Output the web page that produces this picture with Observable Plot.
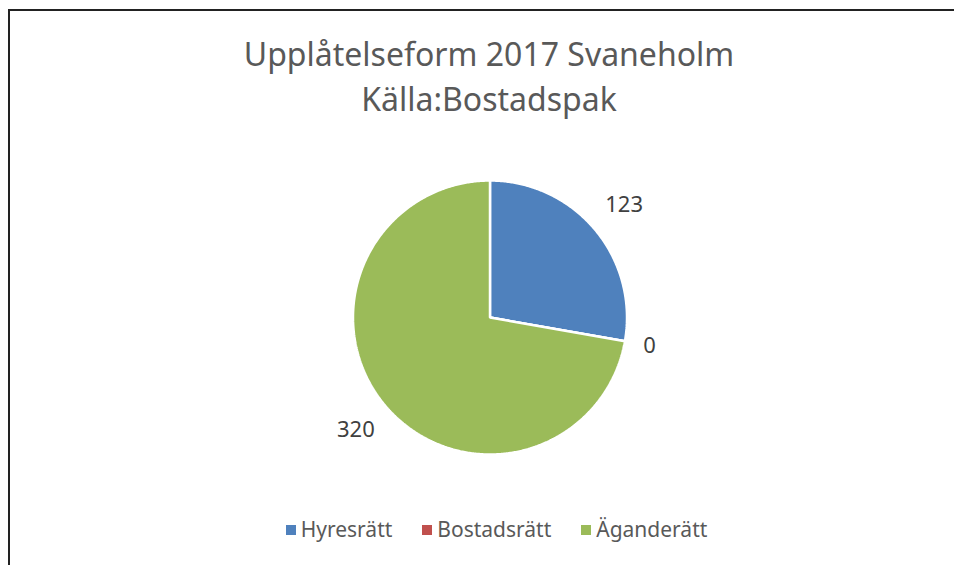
<!DOCTYPE html>
<html>
<head>
<meta charset="utf-8">
<script src="https://cdn.jsdelivr.net/npm/d3@7"></script>
<script src="https://cdn.jsdelivr.net/npm/@observablehq/plot@0.6"></script>
<style>
  html, body { margin: 0; padding: 0; background: #fff; }
  #wrap { position: relative; width: 954px; height: 565px; overflow: hidden; font-family: "Noto Sans", sans-serif; }
  #frame { position: absolute; left: 8px; top: 9px; width: 1000px; height: 600px; border-left: 2px solid #222; border-top: 2px solid #222; }
  #title { position: absolute; left: 0; top: 31px; width: 978px; text-align: center; font-size: 32px; line-height: 45px; color: #595959; }
  #chart { position: absolute; left: 0; top: 130px; }
  #legend { position: absolute; left: 0; top: 519px; width: 993px; display: flex; justify-content: center; gap: 30px; font-size: 21px; line-height: 21px; color: #595959; }
  .item { display: flex; align-items: center; }
  .sw { width: 10px; height: 10px; margin-right: 5px; }
</style>
</head>
<body>
<div id="wrap">
  <div id="frame"></div>
  <div id="title"></div>
  <div id="chart"></div>
  <div id="legend"></div>
</div>
<script>
const titleLines = ["Upplåtelseform 2017 Svaneholm", "Källa:Bostadspak"];
const categories = ["Hyresrätt", "Bostadsrätt", "Äganderätt"];
const values = [123, 0, 320];
const colors = ["#4F81BD", "#C0504D", "#9BBB59"];

document.getElementById("title").innerHTML = titleLines.map(t => `<div>${t}</div>`).join("");

const rows = categories.map((c, i) => ({cat: c, value: values[i]}));
const arcs = d3.pie().sort(null).value(d => d.value)(rows);

// polygon outline for each slice in unit-radius coordinates (y up)
const poly = [];
for (const a of arcs) {
  poly.push({cat: a.data.cat, x: 0, y: 0});
  const n = Math.max(2, Math.ceil((a.endAngle - a.startAngle) / (Math.PI / 360)));
  for (let k = 0; k <= n; k++) {
    const t = a.startAngle + (a.endAngle - a.startAngle) * k / n;
    poly.push({cat: a.data.cat, x: Math.sin(t), y: Math.cos(t)});
  }
}

// outside-end label positions
const R = 137; // pixel radius used only to convert label box to unit coords
const labels = arcs.map(a => {
  const m = (a.startAngle + a.endAngle) / 2;
  const ux = Math.sin(m), uy = Math.cos(m);
  const w = String(a.data.value).length * 12.5 + 2, h = 22;
  const ext = Math.abs(ux) * w / 2 + Math.abs(uy) * h / 2;
  const d = (R + 16 + ext) / R;
  return {x: ux * d, y: uy * d, text: String(a.data.value)};
});

const W = 954, H = 370, cx = 489.5, cy = 187;
const plot = Plot.plot({
  width: W,
  height: H,
  marginLeft: cx - R,
  marginRight: W - cx - R,
  marginTop: cy - R,
  marginBottom: H - cy - R,
  x: {domain: [-1, 1], axis: null},
  y: {domain: [-1, 1], axis: null},
  color: {domain: categories, range: colors},
  style: {fontFamily: "Noto Sans, sans-serif", background: "transparent", overflow: "visible"},
  marks: [
    Plot.line(poly, {x: "x", y: "y", z: "cat", fill: "cat", stroke: "white", strokeWidth: 2.5, strokeLinejoin: "miter", curve: "linear-closed"}),
    Plot.text(labels, {x: "x", y: "y", text: "text", fill: "#404040", fontSize: 22})
  ]
});
document.getElementById("chart").appendChild(plot);

document.getElementById("legend").innerHTML = categories.map((c, i) =>
  `<div class="item"><div class="sw" style="background:${colors[i]}"></div><span>${c}</span></div>`).join("");
</script>
</body>
</html>
